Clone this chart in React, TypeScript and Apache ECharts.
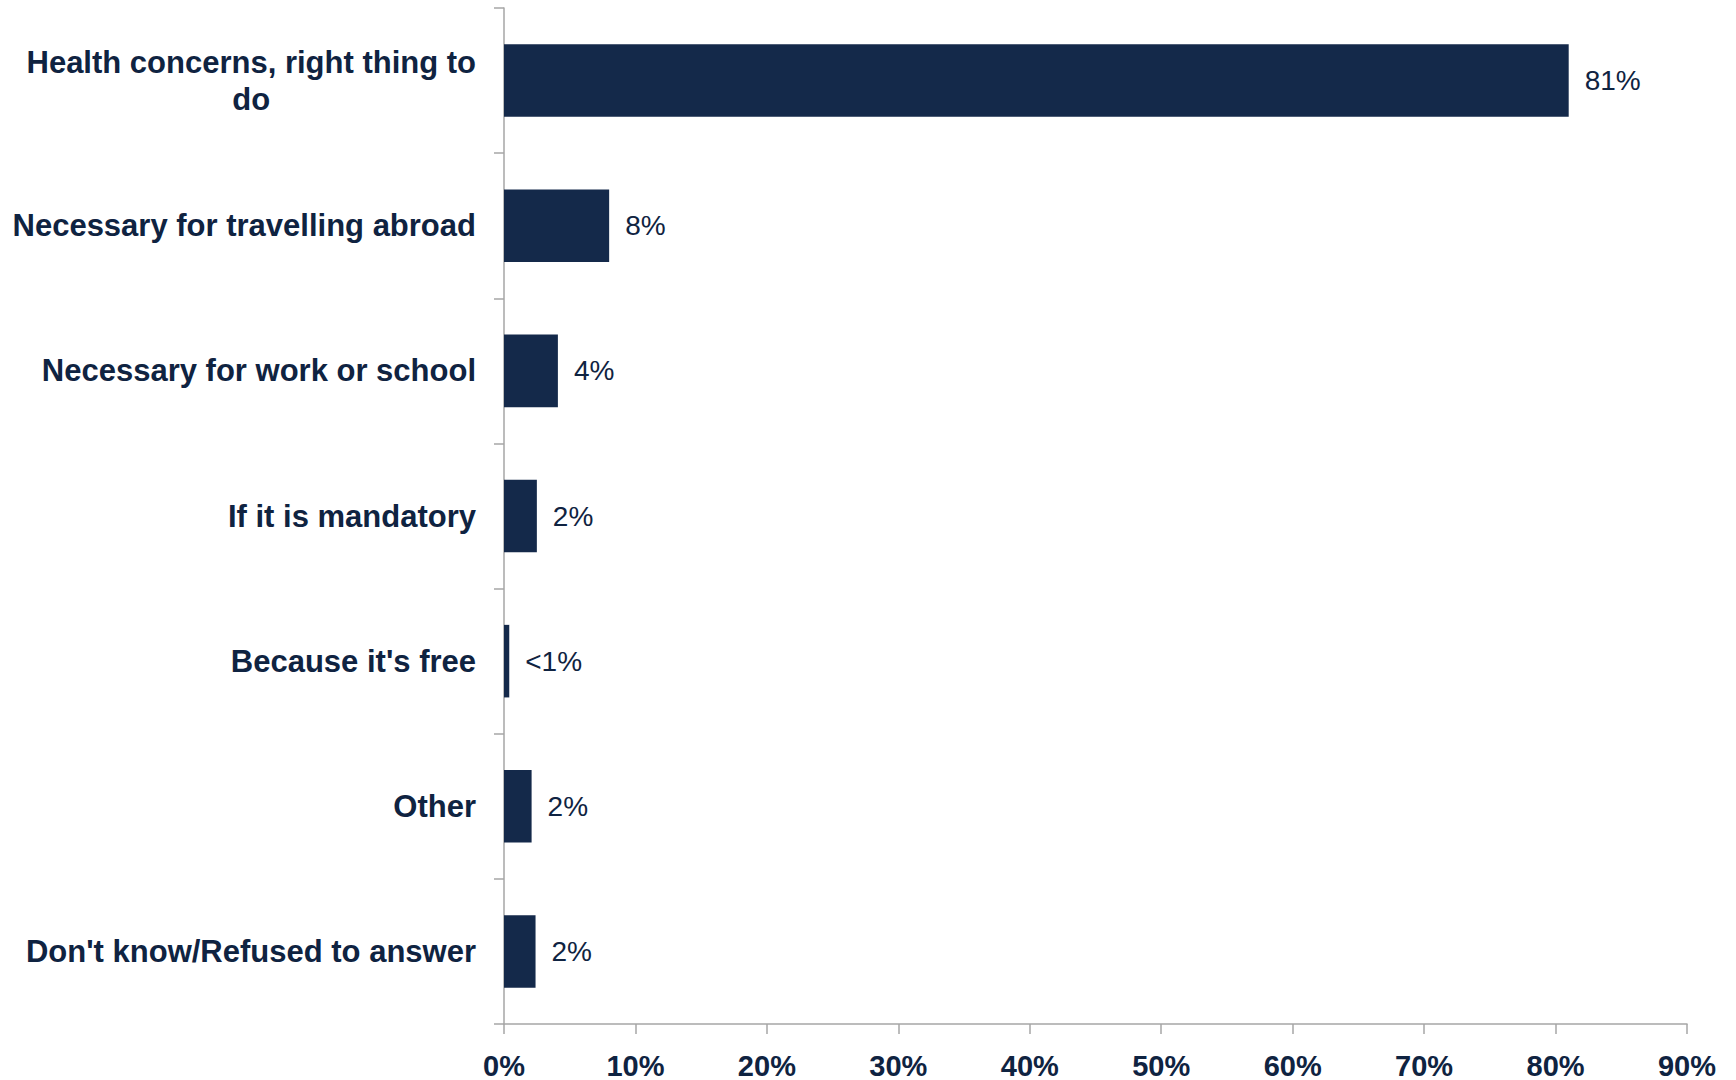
import React, { useEffect, useRef } from "react";
import * as echarts from "echarts";

const categories: string[] = [
  "Health concerns, right thing to do",
  "Necessary for travelling abroad",
  "Necessary for work or school",
  "If it is mandatory",
  "Because it's free",
  "Other",
  "Don't know/Refused to answer",
];
const values: number[] = [81, 8, 4.1, 2.5, 0.4, 2.1, 2.4];
const valueLabels: string[] = ["81%", "8%", "4%", "2%", "<1%", "2%", "2%"];
const xTicks = { min: 0, max: 90, interval: 10 };

const NAVY = "#14294a";
const TEXT = "#0f2341";
const AXIS = "#a6a6a6";

export default function App() {
  const ref = useRef<HTMLDivElement>(null);
  useEffect(() => {
    if (!ref.current) return;
    const chart = echarts.init(ref.current, undefined, { renderer: "svg" });
    chart.setOption({
      animation: false,
      backgroundColor: "#ffffff",
      grid: { left: 504, right: 49, top: 8, bottom: 56, containLabel: false },
      xAxis: {
        type: "value",
        min: xTicks.min,
        max: xTicks.max,
        interval: xTicks.interval,
        splitLine: { show: false },
        axisLine: { show: true, lineStyle: { color: AXIS, width: 1.5 } },
        axisTick: { show: true, length: 10, lineStyle: { color: AXIS, width: 1.5 } },
        axisLabel: {
          formatter: "{value}%",
          color: TEXT,
          fontFamily: "'Liberation Sans', Arial, sans-serif",
          fontWeight: "bold",
          fontSize: 29,
          margin: 27,
        },
      },
      yAxis: {
        type: "category",
        data: categories,
        inverse: true,
        axisLine: { show: true, lineStyle: { color: AXIS, width: 1.5 } },
        axisTick: { show: true, length: 10, lineStyle: { color: AXIS, width: 1.5 } },
        axisLabel: {
          color: TEXT,
          fontFamily: "'Liberation Sans', Arial, sans-serif",
          fontWeight: "bold",
          fontSize: 31,
          margin: 28,
          align: "right",
          lineHeight: 37,
          formatter: (v: string, i: number) => {
            if (i === 0) {
              return "{c|Health concerns, right thing to}\n{c|do}";
            }
            return v;
          },
          rich: {
            c: {
              align: "center",
              color: TEXT,
              fontFamily: "'Liberation Sans', Arial, sans-serif",
              fontWeight: "bold",
              fontSize: 31,
              lineHeight: 37,
            },
          },
        },
      },
      series: [
        {
          type: "bar",
          data: values,
          barCategoryGap: "50%",
          itemStyle: { color: NAVY },
          label: {
            show: true,
            position: "right",
            distance: 16,
            color: TEXT,
            fontFamily: "'Liberation Sans Narrow', 'Liberation Sans', Arial, sans-serif",
            fontSize: 28,
            formatter: (p: any) => valueLabels[p.dataIndex],
          },
        },
      ],
    });
    return () => chart.dispose();
  }, []);
  return (
    <div
      ref={ref}
      style={{ position: "fixed", left: 0, top: 0, width: 1736, height: 1080, background: "#fff" }}
    />
  );
}
